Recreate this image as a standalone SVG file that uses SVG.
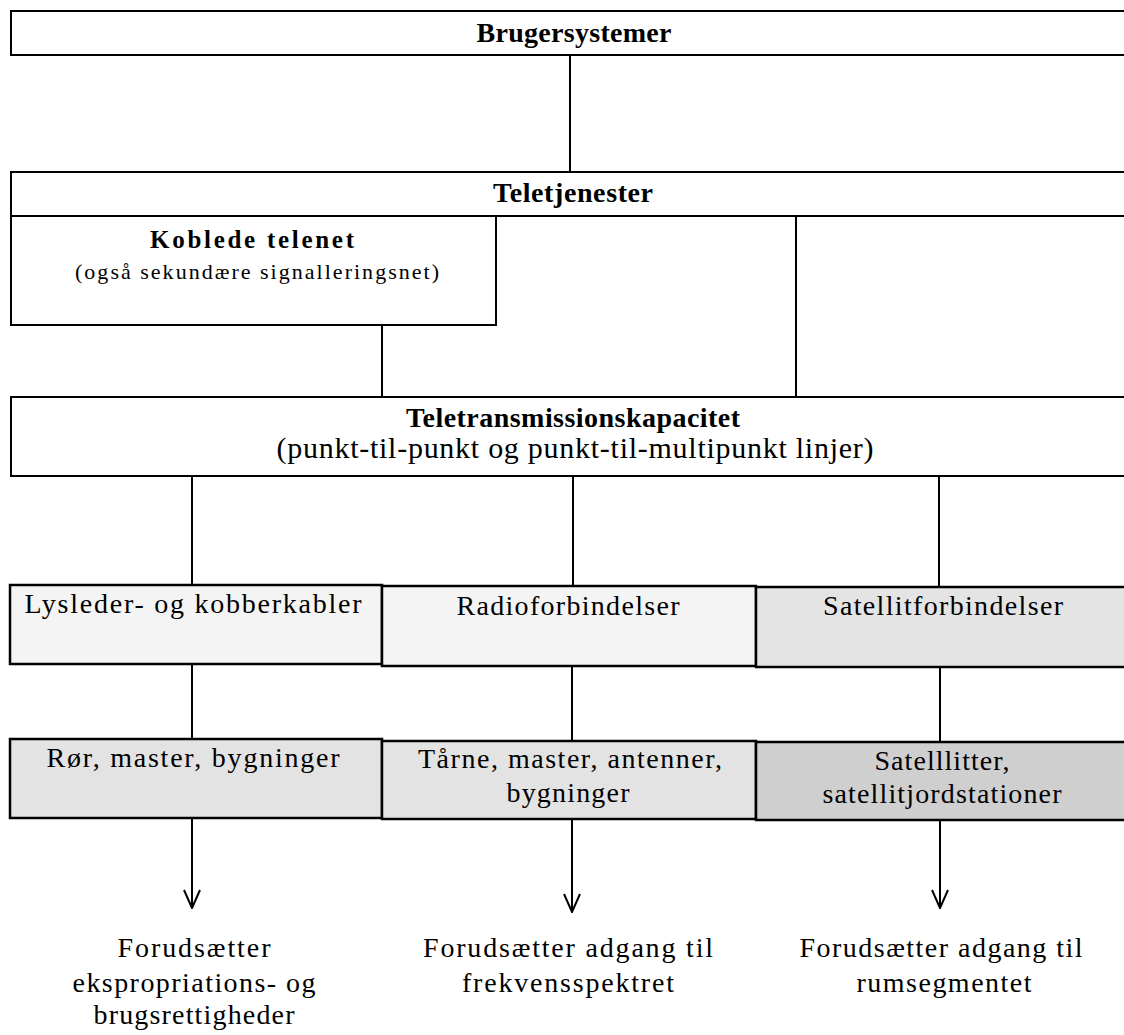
<svg xmlns="http://www.w3.org/2000/svg" width="1124" height="1035" viewBox="0 0 1124 1035">
  <defs>
    <style>
      .box { fill: #ffffff; stroke: #000; stroke-width: 2; }
      .cell { stroke: #000; stroke-width: 2.5; }
      .c1 { fill: #f4f4f4; }
      .c1d { fill: #e4e4e4; }
      .c2 { fill: #e3e3e3; }
      .c2d { fill: #cfcfcf; }
      .ln { stroke: #000; stroke-width: 2; fill: none; }
      text { font-family: "Liberation Serif", "Times New Roman", serif; fill: #000; text-anchor: middle; }
      .b { font-weight: bold; font-size: 28px; }
      .r { font-size: 28px; }
    </style>
    <marker id="arr" viewBox="0 0 20 20" refX="19" refY="10" markerWidth="20" markerHeight="20" markerUnits="userSpaceOnUse" orient="auto">
      <path d="M1,2 L19,10 L1,18" fill="none" stroke="#000" stroke-width="2"/>
    </marker>
  </defs>

  <g id="connectors">
    <line class="ln" x1="570" y1="55" x2="570" y2="172"/>
    <line class="ln" x1="382" y1="325" x2="382" y2="397"/>
    <line class="ln" x1="796" y1="216" x2="796" y2="397"/>
    <line class="ln" x1="192" y1="476" x2="192" y2="585"/>
    <line class="ln" x1="573" y1="476" x2="573" y2="586"/>
    <line class="ln" x1="939" y1="476" x2="939" y2="587"/>
    <line class="ln" x1="192" y1="664" x2="192" y2="740"/>
    <line class="ln" x1="572" y1="666" x2="572" y2="741"/>
    <line class="ln" x1="940" y1="667" x2="940" y2="742"/>
    <line class="ln" x1="192" y1="818" x2="192" y2="908" marker-end="url(#arr)"/>
    <line class="ln" x1="572" y1="819" x2="572" y2="912" marker-end="url(#arr)"/>
    <line class="ln" x1="940" y1="820" x2="940" y2="908" marker-end="url(#arr)"/>
  </g>

  <g id="brugersystemer">
    <rect class="box" x="11" y="11" width="1125" height="44"/>
    <text class="b" x="574" y="42" textLength="195" lengthAdjust="spacing">Brugersystemer</text>
  </g>

  <g id="teletjenester">
    <rect class="box" x="11" y="172" width="1125" height="44"/>
    <text class="b" x="573" y="202" textLength="160" lengthAdjust="spacing">Teletjenester</text>
  </g>

  <g id="koblede-telenet">
    <rect class="box" x="11" y="216" width="485" height="109"/>
    <text x="252" y="248" style="font-weight:bold;font-size:25px" textLength="204" lengthAdjust="spacing">Koblede telenet</text>
    <text x="257" y="279" style="font-size:22px" textLength="364" lengthAdjust="spacing">(også sekundære signalleringsnet)</text>
  </g>

  <g id="teletransmissionskapacitet">
    <rect class="box" x="11" y="397" width="1125" height="79"/>
    <text class="b" x="573" y="427" textLength="334" lengthAdjust="spacing">Teletransmissionskapacitet</text>
    <text class="r" x="575" y="458" style="font-size:30px" textLength="597" lengthAdjust="spacing">(punkt-til-punkt og punkt-til-multipunkt linjer)</text>
  </g>

  <g id="lysleder">
    <rect class="cell c1" x="10" y="585" width="372" height="79"/>
    <text class="r" x="193" y="613" textLength="337" lengthAdjust="spacing">Lysleder- og kobberkabler</text>
  </g>
  <g id="radioforbindelser">
    <rect class="cell c1" x="382" y="586" width="374" height="80"/>
    <text class="r" x="568" y="615" textLength="223" lengthAdjust="spacing">Radioforbindelser</text>
  </g>
  <g id="satellitforbindelser">
    <rect class="cell c1d" x="756" y="587" width="380" height="80"/>
    <text class="r" x="943" y="615" textLength="240" lengthAdjust="spacing">Satellitforbindelser</text>
  </g>

  <g id="roer">
    <rect class="cell c2" x="10" y="739" width="372" height="79"/>
    <text class="r" x="193" y="767" textLength="293" lengthAdjust="spacing">Rør, master, bygninger</text>
  </g>
  <g id="taarne">
    <rect class="cell c2" x="382" y="741" width="374" height="78"/>
    <text class="r" x="570" y="768" textLength="304" lengthAdjust="spacing">Tårne, master, antenner,</text>
    <text class="r" x="568" y="802" textLength="123" lengthAdjust="spacing">bygninger</text>
  </g>
  <g id="satellitter">
    <rect class="cell c2d" x="756" y="742" width="380" height="78"/>
    <text class="r" x="942" y="770" textLength="135" lengthAdjust="spacing">Satelllitter,</text>
    <text class="r" x="942" y="803" textLength="239" lengthAdjust="spacing">satellitjordstationer</text>
  </g>

  <g id="note-ekspropriation">
    <text class="r" x="194" y="957" textLength="153" lengthAdjust="spacing">Forudsætter</text>
    <text class="r" x="194" y="992" textLength="243" lengthAdjust="spacing">ekspropriations- og</text>
    <text class="r" x="194" y="1024" textLength="201" lengthAdjust="spacing">brugsrettigheder</text>
  </g>
  <g id="note-frekvens">
    <text class="r" x="568" y="957" textLength="290" lengthAdjust="spacing">Forudsætter adgang til</text>
    <text class="r" x="568" y="992" textLength="212" lengthAdjust="spacing">frekvensspektret</text>
  </g>
  <g id="note-rum">
    <text class="r" x="941" y="957" textLength="283" lengthAdjust="spacing">Forudsætter adgang til</text>
    <text class="r" x="944" y="992" textLength="175" lengthAdjust="spacing">rumsegmentet</text>
  </g>
</svg>
